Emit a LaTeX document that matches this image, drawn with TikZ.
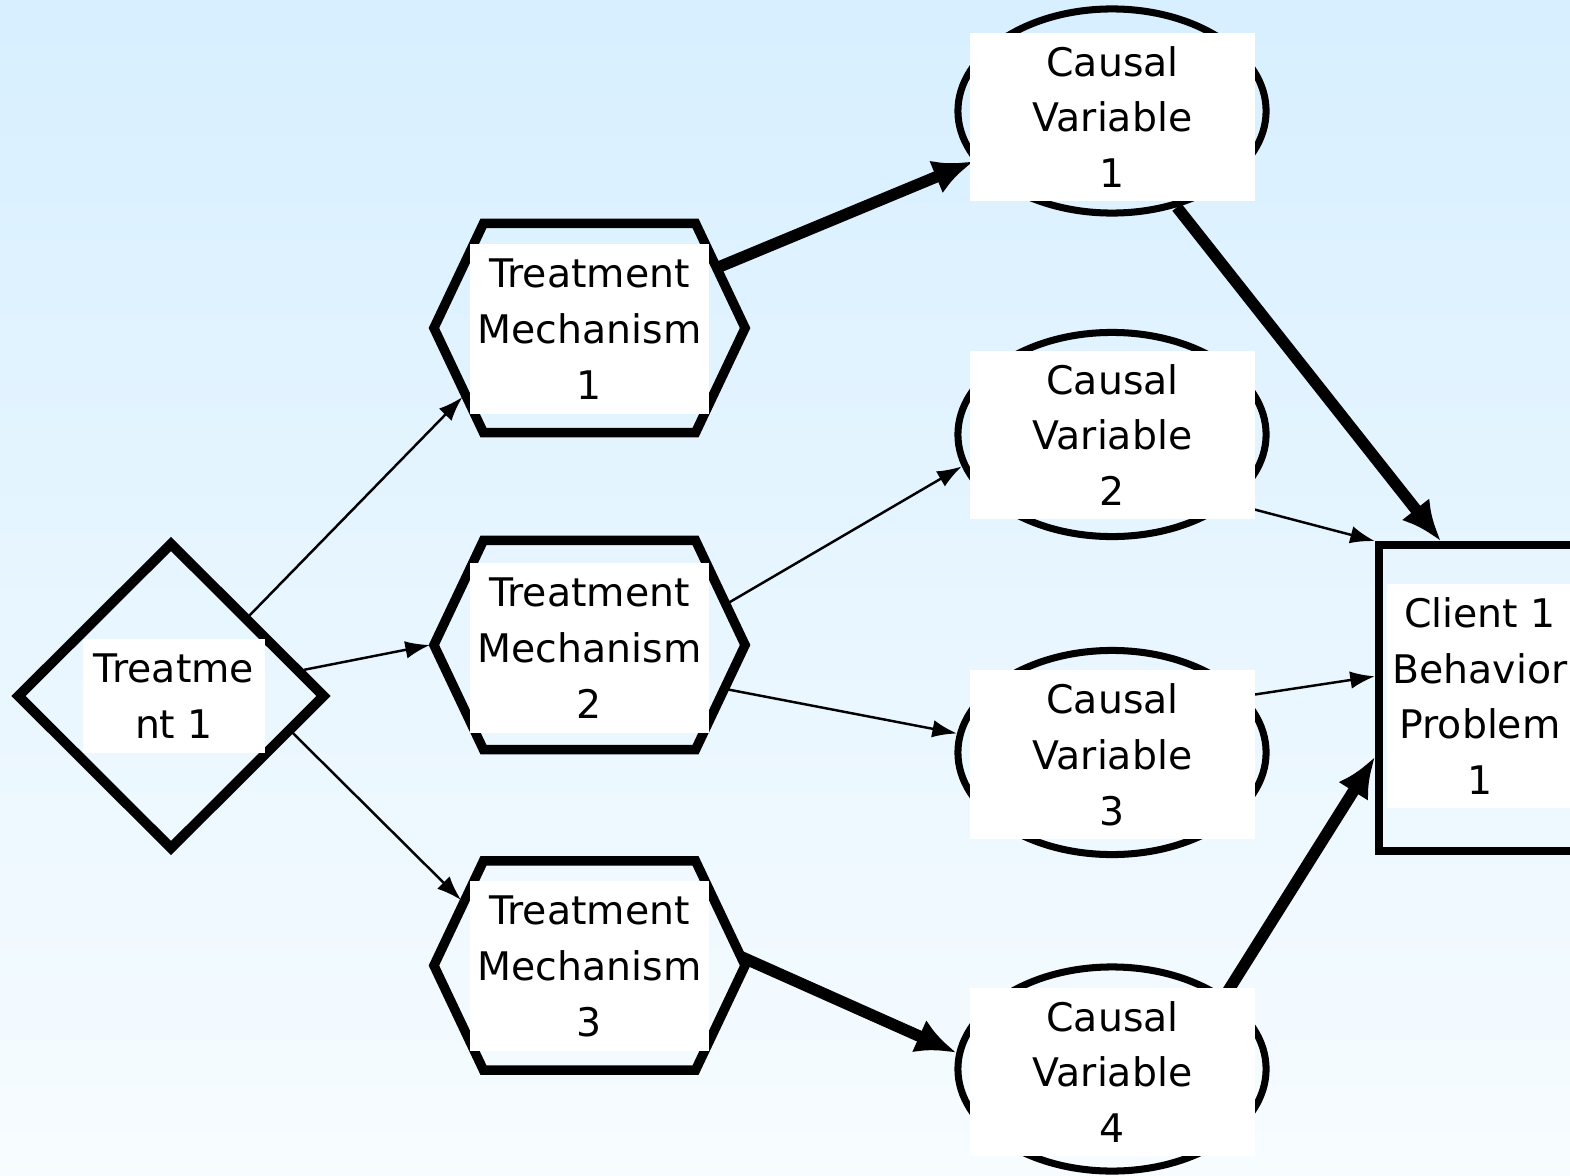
\documentclass[tikz,border=0pt]{standalone}
\usepackage{fontspec}
\setmainfont{DejaVu Sans}
\usetikzlibrary{shapes.geometric,arrows.meta}

\definecolor{bgtop}{RGB}{215,239,255}
\definecolor{bgbot}{RGB}{247,252,255}
\newcommand{\lblfont}{\fontsize{11.2}{15.9}\selectfont}
% outline of a mechanism box
\newcommand{\hexa}[1]{\draw[hexline] (#1.west) -- ([xshift=-1.06cm]#1.north) -- ([xshift=1.06cm]#1.north)
  -- (#1.east) -- ([xshift=1.06cm]#1.south) -- ([xshift=-1.06cm]#1.south) -- cycle;}

\tikzset{
  diabox/.style={diamond, draw, line width=2.85pt, minimum width=3.09cm, minimum height=3.08cm, inner sep=0pt},
  hexbox/.style={rectangle, minimum width=3.11cm, minimum height=2.09cm, inner sep=0pt, outer sep=0pt},
  hexline/.style={line width=2.7pt},
  ellbox/.style={ellipse, draw, line width=2pt, minimum width=3.08cm, minimum height=2.04cm, inner sep=0pt},
  probbox/.style={rectangle, draw, line width=2.3pt, minimum width=1.96cm, minimum height=3.055cm, inner sep=0pt},
  lbl/.style={fill=white, inner sep=0pt, align=center, font=\lblfont},
  thinarr/.style={line width=0.7pt, -{Latex[length=7pt,width=5pt]}},
  thickarr/.style={line width=3.3pt, -{Latex[length=11.5pt,width=10pt]}}
}

\begin{document}
\begin{tikzpicture}[x=0.01cm,y=-0.01cm]
\useasboundingbox (0,0) rectangle (1570,1176);
\shade[top color=bgtop,bottom color=bgbot] (0,0) rectangle (1570,1176);

% shapes
\node[diabox] (t1) at (171,696) {};
\node[hexbox] (tm1) at (589.5,328) {};
\node[hexbox] (tm2) at (589.5,645) {};
\node[hexbox] (tm3) at (589.5,965.5) {};
\hexa{tm1}
\hexa{tm2}
\hexa{tm3}
\node[ellbox] (cv1) at (1112,111) {};
\node[ellbox] (cv2) at (1112,434.5) {};
\node[ellbox] (cv3) at (1112,752.5) {};
\node[ellbox] (cv4) at (1112,1069) {};
\node[probbox] (cl) at (1477,698) {};

% points on the mechanism outlines
\coordinate (tm1in) at (462.5,397);
\coordinate (tm1out) at (716.5,268);
\coordinate (tm2in) at (430,645);
\coordinate (tm2up) at (726.5,604);
\coordinate (tm2dn) at (725.5,689);
\coordinate (tm3in) at (461,900);
\coordinate (tm3out) at (740.5,956.5);

% connectors
\draw[thinarr] (t1) -- (tm1in);
\draw[thinarr] (t1) -- (tm2in);
\draw[thinarr] (t1.-17) -- (tm3in);
\draw[thickarr] (tm1out) -- (cv1.200);
\draw[thinarr] (tm2up) -- (cv2.192);
\draw[thinarr] (tm2dn) -- (cv3.173);
\draw[thickarr] (tm3out) -- (cv4.174);
\draw[thickarr] (cv1.-56) -- (cl.103);
\draw[thinarr] (cv2.-30) -- (cl.north west);
\draw[thinarr] (cv3.23) -- (cl.168);
\draw[thickarr] (cv4.33) -- (cl.210);

% labels
\node[lbl, minimum width=1.82cm, minimum height=1.14cm] (t1t) at (174,696) {Treatme\\nt 1};
\node[lbl, minimum width=2.39cm, minimum height=1.69cm] (tm1t) at (589.5,329) {Treatment\\Mechanism\\1};
\node[lbl, minimum width=2.39cm, minimum height=1.69cm] (tm2t) at (589.5,648) {Treatment\\Mechanism\\2};
\node[lbl, minimum width=2.39cm, minimum height=1.69cm] (tm3t) at (589.5,966) {Treatment\\Mechanism\\3};
\node[lbl, minimum width=2.85cm, minimum height=1.68cm] (cv1t) at (1112.5,117) {Causal\\Variable\\1};
\node[lbl, minimum width=2.85cm, minimum height=1.68cm] (cv2t) at (1112.5,435) {Causal\\Variable\\2};
\node[lbl, minimum width=2.85cm, minimum height=1.68cm] (cv3t) at (1112.5,754.5) {Causal\\Variable\\3};
\node[lbl, minimum width=2.85cm, minimum height=1.68cm] (cv4t) at (1112.5,1072) {Causal\\Variable\\4};
\node[lbl, minimum width=1.86cm, minimum height=2.24cm] (clt) at (1480,696) {Client 1\\Behavior\\Problem\\1};
\end{tikzpicture}
\end{document}
